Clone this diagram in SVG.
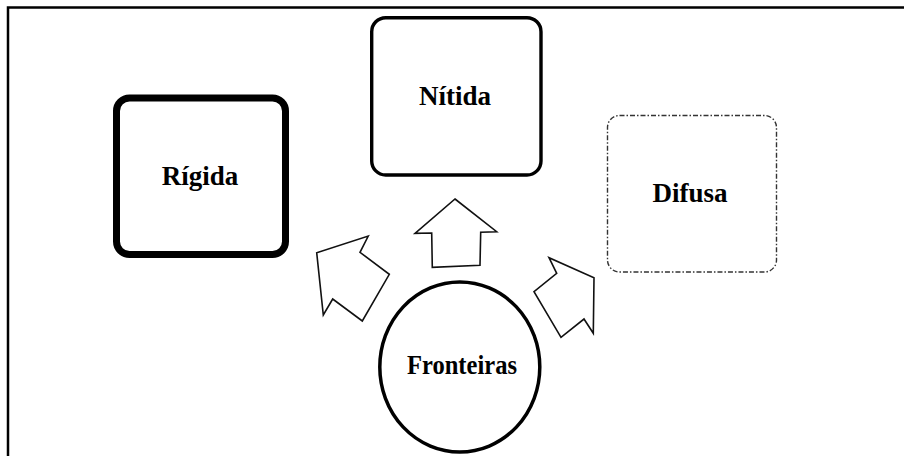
<svg xmlns="http://www.w3.org/2000/svg" width="904" height="456" viewBox="0 0 904 456">
<style>
.lbl{font-family:"Liberation Serif","Times New Roman",serif;font-weight:bold;font-size:27px;fill:#000;text-anchor:middle}
.arrow{fill:#fff;stroke:#111;stroke-width:1.6;stroke-linejoin:miter}
</style>
<rect width="904" height="456" fill="#fff"/>
<path d="M8 456 V7.5 H904" fill="none" stroke="#000" stroke-width="2.5"/>
<g id="rigida">
<rect x="116.5" y="98" width="169" height="156.5" rx="13" fill="#fff" stroke="#000" stroke-width="7"/>
<text class="lbl" x="200" y="185">Rígida</text>
</g>
<g id="nitida">
<rect x="371.7" y="17.7" width="169.3" height="157.3" rx="14" fill="#fff" stroke="#000" stroke-width="3.4"/>
<text class="lbl" x="455" y="105">Nítida</text>
</g>
<g id="difusa">
<rect x="607.5" y="115.5" width="169" height="156.5" rx="12" fill="#fff" stroke="#333" stroke-width="1.4" stroke-dasharray="5 2 1.5 2"/>
<text class="lbl" x="690" y="201.5">Difusa</text>
</g>
<g id="fronteiras">
<ellipse cx="459.8" cy="367" rx="80" ry="85" fill="#fff" stroke="#000" stroke-width="3.5"/>
<text class="lbl" x="462" y="374" textLength="110" lengthAdjust="spacingAndGlyphs">Fronteiras</text>
</g>
<g id="connectors">
<polygon class="arrow" points="368.3,236 360,252.3 389.3,274.3 362.3,321 332.7,299 323.3,315 316.7,252.7"/>
<polygon class="arrow" points="455,199 496.7,231.7 480.7,232.3 480,265.3 432.3,267.3 431.7,233 415,233.3"/>
<polygon class="arrow" points="549,257.7 556.7,273.3 534,291.7 561,337.3 584,319 593.3,333.3 594,277.7"/>
</g>
</svg>
